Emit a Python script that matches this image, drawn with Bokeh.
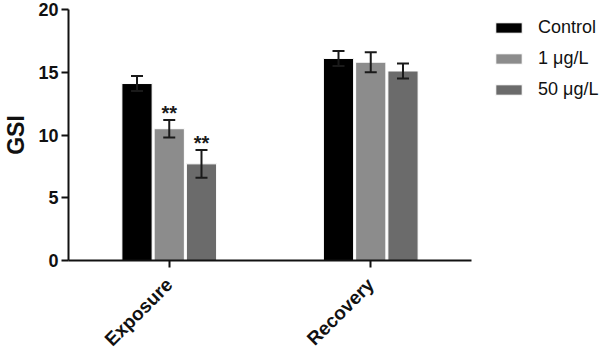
import math
from bokeh.plotting import figure
from bokeh.models import (ColumnDataSource, Range1d, FixedTicker, Whisker, TeeHead,
                          Legend, LegendItem)
from bokeh.core.properties import value
from bokeh.embed import file_html
from bokeh.resources import INLINE

groups = ["Exposure", "Recovery"]
series = ["Control", "1 \u03bcg/L", "50 \u03bcg/L"]
control = [14.1, 16.1]
control_err = [0.6, 0.6]
low = [10.5, 15.8]
low_err = [0.7, 0.8]
high = [7.7, 15.1]
high_err = [1.1, 0.6]
signif = [["", ""], ["**", ""], ["**", ""]]
colors = ["#000000", "#8c8c8c", "#6b6b6b"]
offsets = [-0.16, 0.0, 0.16]
y_ticks = [0, 5, 10, 15, 20]

FONT = "Liberation Sans"

p = figure(width=600, height=350, output_backend="svg", toolbar_location=None,
           x_range=Range1d(0.5, 2.5), y_range=Range1d(0, 20),
           min_border_left=56, min_border_right=141, min_border_top=9,
           min_border_bottom=90)
p.frame_width = 403
p.frame_height = 251
p.outline_line_color = None
p.grid.grid_line_color = None
p.background_fill_color = "white"

renderers = []
for vals, errs, sig, col, off in zip([control, low, high],
                                     [control_err, low_err, high_err],
                                     signif, colors, offsets):
    xs = [i + 1 + off for i in range(len(groups))]
    src = ColumnDataSource(dict(
        x=xs, top=vals,
        upper=[v + e for v, e in zip(vals, errs)],
        lower=[v - e for v, e in zip(vals, errs)],
        sig=sig))
    r = p.vbar(x="x", top="top", width=0.15, source=src, fill_color=col,
               line_color="white", line_width=1)
    renderers.append(r)
    w = Whisker(base="x", upper="upper", lower="lower", source=src,
                line_color="#1a1a1a", line_width=2, level="overlay",
                upper_head=TeeHead(size=12, line_width=2, line_color="#1a1a1a"),
                lower_head=TeeHead(size=12, line_width=2, line_color="#1a1a1a"))
    p.add_layout(w)
    p.text(x="x", y="upper", text="sig", source=src, text_align="center",
           text_baseline="bottom", y_offset=4, text_font=value(FONT),
           text_font_style="bold", text_font_size="20px", text_color="#1a1a1a")

# axes
p.xaxis.ticker = FixedTicker(ticks=[1, 2])
p.xaxis.major_label_overrides = {1: groups[0], 2: groups[1]}
p.xaxis.major_label_orientation = math.pi / 4
p.yaxis.ticker = FixedTicker(ticks=y_ticks)
for ax in (p.xaxis[0], p.yaxis[0]):
    ax.axis_line_width = 2
    ax.axis_line_color = "#111111"
    ax.major_tick_line_width = 2
    ax.major_tick_line_color = "#111111"
    ax.major_tick_out = 7
    ax.major_tick_in = 0
    ax.minor_tick_line_color = None
    ax.major_label_text_font = FONT
    ax.major_label_text_font_style = "bold"
    ax.major_label_text_color = "#111111"
p.yaxis.major_label_text_font_size = "18px"
p.xaxis.major_label_text_font_size = "19px"
p.yaxis.major_label_standoff = 3
p.xaxis.major_label_standoff = 14
p.yaxis.axis_label = "GSI"
p.yaxis.axis_label_text_font = FONT
p.yaxis.axis_label_text_font_style = "bold"
p.yaxis.axis_label_text_font_size = "23px"
p.yaxis.axis_label_text_color = "#111111"
p.yaxis.axis_label_standoff = 6

legend = Legend(items=[LegendItem(label=s, renderers=[r]) for s, r in zip(series, renderers)],
                location=(21, 160), glyph_width=33, glyph_height=13,
                label_height=19, spacing=10, label_standoff=13, padding=0, margin=0,
                border_line_color=None, background_fill_alpha=0,
                label_text_font=FONT, label_text_font_size="18px",
                label_text_color="#111111")
p.add_layout(legend, "right")

open("out.html", "w").write(file_html(p, INLINE))
